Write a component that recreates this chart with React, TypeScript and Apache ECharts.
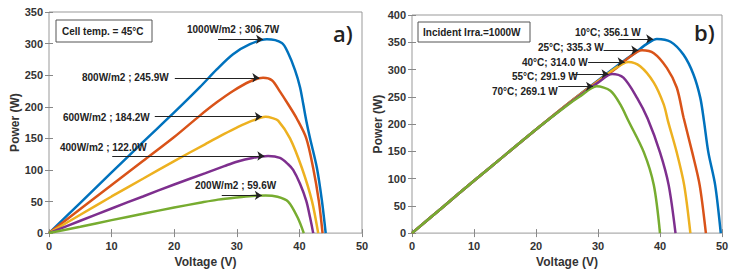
import React, { useEffect, useRef } from "react";
import * as echarts from "echarts";

// ---------- Data: panel a) irradiance sweep at 45°C ----------
const IRR_NAMES = ["1000W/m2", "800W/m2", "600W/m2", "400W/m2", "200W/m2"];
const IRR_PEAKS = [306.7, 245.9, 184.2, 122.0, 59.6];
const IRR_ARROW_START_V = [27.0, 20.1, 16.9, 10.1, 27.6];

const irr1000: number[][] = [
  [0, 0], [5, 48], [10, 96], [15, 144], [20, 191], [24.1, 231], [26.8, 259], [29.4, 283],
  [32.1, 299], [34.8, 306.7], [37.2, 301], [38.2, 285], [39.3, 258], [40.1, 231], [40.6, 205],
  [41.1, 178], [41.7, 150], [42.8, 103], [43.6, 51], [44.2, 0],
];
const irr800: number[][] = [
  [0, 0], [5, 38], [10, 76], [15, 114], [20, 152], [24.1, 186], [26.8, 207], [29.4, 225],
  [32.1, 240], [34.2, 245.9], [35.6, 242], [36.9, 224], [38.2, 204], [39.6, 181], [41.1, 150],
  [42.2, 103], [43.1, 51], [43.7, 0],
];
const irr600: number[][] = [
  [0, 0], [5, 29], [10, 58], [15, 86], [20, 114], [25, 141], [28, 157], [30, 167], [32.5, 178],
  [34.6, 184.2], [35.7, 182], [36.6, 178], [38.5, 150], [40.4, 103], [42.0, 51], [43.0, 0],
];
const irr400: number[][] = [
  [0, 0], [5, 19.5], [10, 39], [15, 58], [20, 77], [25, 95], [28, 106], [30, 113], [32.5, 119],
  [35, 122], [36.9, 119], [38.2, 109], [39.0, 100], [40.1, 78], [41.1, 51], [41.7, 25], [42.2, 0],
];
const irr200: number[][] = [
  [0, 0], [5, 10], [10, 20.5], [15, 30.5], [20, 40.5], [24.1, 48], [27, 53], [30, 56.5],
  [32.5, 58.8], [34.6, 59.6], [36.5, 57.5], [38.2, 50], [39.7, 25], [40.7, 0],
];

// ---------- Data: panel b) temperature sweep at 1000 W ----------
const TEMP_NAMES = ["10°C", "25°C", "40°C", "55°C", "70°C"];
const TEMP_PEAKS = [356.1, 335.3, 314.0, 291.9, 269.1];
const TEMP_ARROW_START_V = [33.3, 30.9, 28.4, 25.9, 23.6];

const t10: number[][] = [
  [0, 0], [5, 48], [10, 96], [15, 143], [20, 190], [25, 236], [30, 280], [33, 306], [36, 331],
  [38, 348], [39.5, 356.1], [41.7, 351], [43.8, 327], [45.4, 291], [46.5, 248], [47.1, 205],
  [47.8, 148], [48.9, 88], [49.8, 0],
];
const t25: number[][] = [
  [0, 0], [5, 48], [10, 96], [15, 143], [20, 190], [25, 236], [30, 279], [33, 303], [35, 322],
  [37.1, 335.3], [39.0, 330], [41.1, 303], [42.7, 267], [43.8, 212], [45.2, 148], [46.4, 88],
  [47.4, 0],
];
const t40: number[][] = [
  [0, 0], [5, 48], [10, 96], [15, 143], [20, 190], [25, 236], [30, 278], [32.5, 300],
  [34.9, 314.0], [36.8, 306], [39.0, 276], [40.6, 236], [41.3, 205], [42.7, 148], [43.9, 88],
  [44.9, 0],
];
const t55: number[][] = [
  [0, 0], [5, 48], [10, 96], [15, 143], [20, 190], [25, 235], [27, 252], [30, 276],
  [32.3, 291.9], [34.1, 285], [36.3, 248], [38.0, 210], [40.0, 148], [41.4, 88], [42.5, 0],
];
const t70: number[][] = [
  [0, 0], [5, 48], [10, 96], [15, 143], [20, 190], [25, 234], [27, 250], [29.8, 269.1],
  [32.0, 261], [33.6, 236], [34.9, 206], [37.4, 148], [39.0, 88], [40.0, 0],
];

// ---------- Axes ----------
const X_MIN = 0, X_MAX = 50, X_STEP = 10;
const YA_MAX = 350, YB_MAX = 400, Y_STEP = 50;

const COLORS = ["#0072BD", "#D95319", "#EDB120", "#7E2F8E", "#77AC30"];
const FONT = "Liberation Sans";

// label layout (pixel positions of annotation texts)
const IRR_TEXT_POS = [[187, 29], [82, 77], [63, 117], [60, 147], [195, 185]];
const TEMP_TEXT_POS = [[575, 32], [538, 47], [522, 62], [512, 76], [492, 91]];

function peakOf(d: number[][]) {
  let best = d[0];
  for (const p of d) if (p[1] > best[1]) best = p;
  return best;
}

export default function App() {
  const ref = useRef<HTMLDivElement>(null);
  useEffect(() => {
    if (!ref.current) return;
    const chart = echarts.init(ref.current, undefined, { renderer: "svg" });

    const irrData = [irr1000, irr800, irr600, irr400, irr200];
    const tempData = [t10, t25, t40, t55, t70];

    const mkSeries = (d: number[][], i: number, gi: number, startV: number) => {
      const pk = peakOf(d);
      return {
        type: "line",
        xAxisIndex: gi,
        yAxisIndex: gi,
        data: d,
        showSymbol: false,
        smooth: 0.3,
        lineStyle: { color: COLORS[i], width: 2.5 },
        itemStyle: { color: COLORS[i] },
        z: 2,
        markLine: {
          silent: true,
          symbol: ["none", "arrow"],
          symbolSize: 7,
          label: { show: false },
          lineStyle: { color: "#222", width: 1, type: "solid" },
          emphasis: { disabled: true },
          z: 6,
          data: [[{ coord: [startV, pk[1]] }, { coord: [pk[0] - 0.6, pk[1]] }]],
        },
      };
    };

    const tickLabel = { fontFamily: FONT, fontWeight: "bold", fontSize: 11, color: "#333" };
    const baseX = (gi: number, pos: string, show: boolean) => ({
      type: "value",
      gridIndex: gi,
      position: pos,
      min: X_MIN,
      max: X_MAX,
      interval: X_STEP,
      axisLine: { show: false },
      axisTick: { show: true, inside: true, length: 4, lineStyle: { color: "#888" } },
      axisLabel: { show, ...tickLabel, margin: 7 },
      splitLine: { show: false },
      name: show ? "Voltage (V)" : "",
      nameLocation: "middle",
      nameGap: 21,
      nameTextStyle: { fontFamily: FONT, fontWeight: "bold", fontSize: 12, color: "#333" },
    });
    const baseY = (gi: number, pos: string, show: boolean, max: number) => ({
      type: "value",
      gridIndex: gi,
      position: pos,
      min: 0,
      max,
      interval: Y_STEP,
      axisLine: { show: false },
      axisTick: { show: true, inside: true, length: 4, lineStyle: { color: "#888" } },
      axisLabel: { show, ...tickLabel, margin: 6 },
      splitLine: { show: false },
      name: show ? "Power (W)" : "",
      nameLocation: "middle",
      nameGap: 24,
      nameTextStyle: { fontFamily: FONT, fontWeight: "bold", fontSize: 12, color: "#333" },
    });

    const annText = (txt: string, pos: number[]) => ({
      type: "text",
      x: pos[0],
      y: pos[1],
      style: {
        text: txt,
        fontFamily: FONT,
        fontWeight: "bold",
        fontSize: 10,
        fill: "#222",
        verticalAlign: "middle",
        textAlign: "left",
      },
      z: 10,
    });

    const graphics: any[] = [
      { type: "rect", shape: { x: 56, y: 20, width: 96, height: 22 }, style: { fill: "#fff", stroke: "#555", lineWidth: 1 }, z: 10 },
      annText("Cell temp. = 45°C", [62, 31]),
      { type: "rect", shape: { x: 418, y: 22, width: 112, height: 20 }, style: { fill: "#fff", stroke: "#555", lineWidth: 1 }, z: 10 },
      annText("Incident Irra.=1000W", [423, 32]),
      { type: "text", x: 333, y: 33, style: { text: "a)", fontFamily: "Open Sans", fontWeight: 600, fontSize: 22, fill: "#222", verticalAlign: "middle" }, z: 10 },
      { type: "text", x: 694, y: 32, style: { text: "b)", fontFamily: "Open Sans", fontWeight: 600, fontSize: 22, fill: "#222", verticalAlign: "middle" }, z: 10 },
    ];
    IRR_NAMES.forEach((n, i) => graphics.push(annText(`${n} ; ${IRR_PEAKS[i].toFixed(1)}W`, IRR_TEXT_POS[i])));
    TEMP_NAMES.forEach((n, i) => graphics.push(annText(`${n}; ${TEMP_PEAKS[i].toFixed(1)} W`, TEMP_TEXT_POS[i])));

    chart.setOption({
      animation: false,
      backgroundColor: "#fff",
      grid: [
        { left: 49, top: 12, width: 313, height: 224, show: true, borderColor: "#999", borderWidth: 1, backgroundColor: "#fff" },
        { left: 412, top: 15, width: 310, height: 220, show: true, borderColor: "#999", borderWidth: 1, backgroundColor: "#fff" },
      ],
      xAxis: [baseX(0, "bottom", true), baseX(1, "bottom", true), baseX(0, "top", false), baseX(1, "top", false)],
      yAxis: [baseY(0, "left", true, YA_MAX), baseY(1, "left", true, YB_MAX), baseY(0, "right", false, YA_MAX), baseY(1, "right", false, YB_MAX)],
      series: [
        ...irrData.map((d, i) => mkSeries(d, i, 0, IRR_ARROW_START_V[i])),
        ...tempData.map((d, i) => mkSeries(d, i, 1, TEMP_ARROW_START_V[i])),
      ],
      graphic: graphics,
    });
    return () => chart.dispose();
  }, []);
  return <div ref={ref} style={{ width: 735, height: 273, position: "absolute", left: 0, top: 0 }} />;
}
